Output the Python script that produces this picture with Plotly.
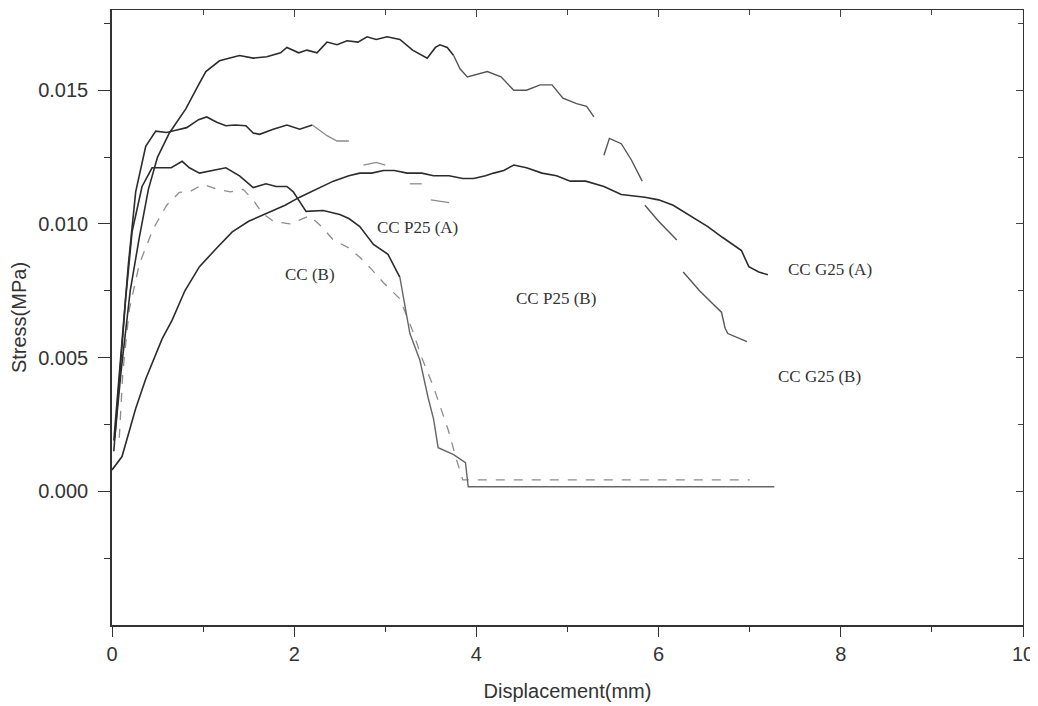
import plotly.graph_objects as go

# ---------------- data ----------------
# CC G25 (B): highest curve
g25b_x = [0.03, 0.1, 0.2, 0.3, 0.4, 0.5, 0.63, 0.81, 0.95, 1.03, 1.18, 1.4, 1.55, 1.7, 1.85, 1.92,
          2.05, 2.14, 2.25, 2.36, 2.47, 2.58, 2.7, 2.8, 2.9, 3.02, 3.16, 3.3, 3.46, 3.55, 3.6, 3.68, 3.75]
g25b_y = [0.002, 0.0045, 0.0075, 0.0095, 0.0113, 0.0125, 0.0134, 0.0143, 0.0152, 0.0157, 0.0161, 0.0163,
          0.0162, 0.01625, 0.0164, 0.0166, 0.0164, 0.0165, 0.0164, 0.0168, 0.0167, 0.01685, 0.0168, 0.0170,
          0.0169, 0.0170, 0.0169, 0.0165, 0.0162, 0.0166, 0.0167, 0.0166, 0.0163]
g25b_tail_x = [3.75, 3.82, 3.9, 4.0, 4.12, 4.27, 4.41, 4.55, 4.7, 4.83, 4.95, 5.1, 5.21, 5.29, None,
               5.4, 5.46, 5.59, 5.7, 5.82, None, 5.85, 6.0, 6.2, None, 6.27, 6.45, 6.6, 6.69, 6.73, 6.76, 6.97]
g25b_tail_y = [0.0163, 0.0158, 0.0155, 0.0156, 0.0157, 0.0155, 0.0150, 0.0150, 0.0152, 0.0152, 0.0147,
               0.0145, 0.0144, 0.0140, None, 0.01257, 0.0132, 0.0130, 0.0124, 0.0116, None, 0.0107, 0.0101,
               0.0094, None, 0.0082, 0.0075, 0.0070, 0.0067, 0.0061, 0.0059, 0.0056]

# CC G25 (A): slowly rising curve
g25a_x = [0, 0.11, 0.26, 0.37, 0.55, 0.66, 0.8, 0.96, 1.15, 1.32, 1.5, 1.7, 1.9, 2.06, 2.25, 2.43, 2.6, 2.72,
          2.85, 2.98, 3.1, 3.24, 3.4, 3.53, 3.7, 3.85, 3.97, 4.1, 4.19, 4.3, 4.41, 4.55, 4.72, 4.88, 5.03,
          5.2, 5.4, 5.59, 5.85, 6.0, 6.16, 6.35, 6.54, 6.7, 6.91, 6.99, 7.1, 7.2]
g25a_y = [0.0008, 0.0013, 0.0031, 0.0042, 0.0057, 0.0064, 0.0075, 0.0084, 0.0091, 0.0097, 0.0101, 0.0104,
          0.0107, 0.0110, 0.0113, 0.0116, 0.0118, 0.0119, 0.0119, 0.0120, 0.0120, 0.0119, 0.0119, 0.0118,
          0.0118, 0.0117, 0.0117, 0.0118, 0.0119, 0.0120, 0.0122, 0.0121, 0.0119, 0.0118, 0.0116, 0.0116,
          0.0114, 0.0111, 0.0110, 0.0109, 0.0107, 0.0103, 0.0099, 0.0095, 0.0090, 0.0084, 0.0082, 0.0081]

# CC (A): plateau near 0.014
cca_x = [0.02, 0.06, 0.1, 0.18, 0.26, 0.37, 0.48, 0.6, 0.7, 0.82, 0.95, 1.04, 1.15, 1.25, 1.35, 1.47,
         1.55, 1.62, 1.77, 1.92, 2.06, 2.2]
cca_y = [0.0019, 0.0035, 0.0053, 0.0085, 0.0112, 0.0129, 0.01347, 0.01342, 0.0135, 0.0136, 0.0139,
         0.0140, 0.0138, 0.01367, 0.0137, 0.01367, 0.0134, 0.01335, 0.01354, 0.0137, 0.01354, 0.0137]
cca_tail_x = [2.2, 2.36, 2.47, 2.6, None, 2.76, 2.9, 3.0, None, 3.27, 3.4, None, 3.5, 3.7]
cca_tail_y = [0.0137, 0.0133, 0.0131, 0.0131, None, 0.0122, 0.0123, 0.0122, None, 0.0115, 0.0115, None,
              0.0109, 0.0108]

# CC P25 (A): plateau near 0.012
p25a_x = [0.02, 0.08, 0.15, 0.22, 0.33, 0.44, 0.55, 0.65, 0.77, 0.85, 0.96, 1.1, 1.25, 1.4, 1.55, 1.69,
          1.8, 1.92, 1.99, 2.13, 2.32, 2.5, 2.6, 2.72, 2.87, 3.03, 3.16]
p25a_y = [0.0015, 0.004, 0.0072, 0.0097, 0.0114, 0.0121, 0.0121, 0.0121, 0.01234, 0.0121, 0.0119, 0.0120,
          0.0121, 0.0118, 0.01136, 0.0115, 0.0114, 0.0114, 0.0112, 0.01047, 0.0105, 0.01035, 0.0102,
          0.0099, 0.00923, 0.00886, 0.0080]
p25a_tail_x = [3.16, 3.27, 3.38, 3.47, 3.53, 3.58, 3.75, 3.88, 3.91, 5.0, 7.27]
p25a_tail_y = [0.0080, 0.0059, 0.0049, 0.0035, 0.0027, 0.00163, 0.00137, 0.00107, 0.00017, 0.00017, 0.00017]

# CC (B): dashed grey curve
ccb_x = [0.08, 0.12, 0.19, 0.3, 0.45, 0.6, 0.74, 0.85, 1.0, 1.15, 1.3, 1.44, 1.55, 1.65, 1.77, 1.95, 2.17,
         2.3, 2.43, 2.6, 2.72, 2.85, 2.98, 3.16, 3.3, 3.4, 3.53, 3.69, 3.78, 3.85, 5.0, 7.0]
ccb_y = [0.002, 0.0045, 0.0068, 0.0085, 0.0098, 0.0107, 0.01118, 0.0112, 0.01148, 0.0113, 0.0112, 0.01129,
         0.0109, 0.0104, 0.0101, 0.0100, 0.0103, 0.0099, 0.0094, 0.0091, 0.00875, 0.0083, 0.0078, 0.0072,
         0.0060, 0.0050, 0.0039, 0.0023, 0.0012, 0.00043, 0.00043, 0.00043]

label_text = ["CC P25 (A)", "CC (B)", "CC P25 (B)", "CC G25 (A)", "CC G25 (B)"]
label_x = [3.35, 2.17, 4.87, 7.88, 7.77]
label_y = [0.00987, 0.0081, 0.0072, 0.0083, 0.0043]

x_ticks = [0, 2, 4, 6, 8, 10]
y_ticks = [0.000, 0.005, 0.010, 0.015]
y_tick_text = ["0.000", "0.005", "0.010", "0.015"]
y_minor = [-0.0025, 0.0025, 0.0075, 0.0125, 0.0175]
x_range = [0, 10]
y_range = [-0.005, 0.018]

# ---------------- figure ----------------
DARK = "#2c2c2c"
FAINT = "#8c8c8c"

fig = go.Figure()

def add(x, y, color, width, dash="solid", axes=("x", "y")):
    fig.add_trace(go.Scatter(x=x, y=y, mode="lines", connectgaps=False,
                             line=dict(color=color, width=width, dash=dash),
                             xaxis=axes[0], yaxis=axes[1], hoverinfo="skip", showlegend=False))

add(g25a_x, g25a_y, DARK, 1.6, axes=("x2", "y2"))
add(ccb_x, ccb_y, FAINT, 1.3, dash="dash")
add(p25a_x, p25a_y, DARK, 1.6)
add(p25a_tail_x, p25a_tail_y, "#666666", 1.4)
add(cca_x, cca_y, DARK, 1.6)
add(cca_tail_x, cca_tail_y, FAINT, 1.3)
add(g25b_x, g25b_y, DARK, 1.6)
add(g25b_tail_x, g25b_tail_y, "#555555", 1.4)

for t, lx, ly in zip(label_text, label_x, label_y):
    fig.add_annotation(x=lx, y=ly, text=t, showarrow=False, xref="x", yref="y",
                       font=dict(family="Liberation Serif", size=17, color="#333333"))

axis_font = dict(family="Liberation Sans", size=20, color="#333333")
title_font = dict(family="Liberation Sans", size=20, color="#333333")

# the page body adds an 8px offset, so the figure is 1030x698
fig.update_layout(
    width=1030, height=698,
    margin=dict(l=104, r=15, t=2, b=81, autoexpand=False),
    paper_bgcolor="white", plot_bgcolor="white",
    xaxis=dict(range=x_range, tickvals=x_ticks, ticks="outside", ticklen=10, tickwidth=1.3,
               tickcolor="#333", linecolor="#333", linewidth=1.6, showline=True, showgrid=False,
               zeroline=False, tickfont=axis_font, automargin=False,
               minor=dict(dtick=1, ticks="outside", ticklen=5, tickcolor="#333", tickwidth=1.2),
               title=dict(text="Displacement(mm)", font=title_font, standoff=20)),
    yaxis=dict(range=y_range, tickvals=y_ticks, ticktext=y_tick_text, ticks="outside", ticklen=12,
               tickwidth=1.3, tickcolor="#333", linecolor="#333", linewidth=1.6, showline=True,
               showgrid=False, zeroline=False, tickfont=axis_font, automargin=False,
               ticklabelstandoff=6,
               minor=dict(tickvals=y_minor, ticks="outside", ticklen=6, tickcolor="#333", tickwidth=1.2),
               title=dict(text="Stress(MPa)", font=title_font, standoff=8)),
    xaxis2=dict(range=x_range, overlaying="x", side="top", tickvals=x_ticks, ticks="inside", ticklen=7,
                tickcolor="#444", showticklabels=False, showline=True, linecolor="#333", linewidth=1.4,
                showgrid=False, zeroline=False, automargin=False,
                minor=dict(dtick=1, ticks="inside", ticklen=5, tickcolor="#444")),
    yaxis2=dict(range=y_range, overlaying="y", side="right", tickvals=y_ticks, ticks="inside", ticklen=7,
                tickcolor="#444", showticklabels=False, showline=True, linecolor="#333", linewidth=1.4,
                showgrid=False, zeroline=False, automargin=False,
                minor=dict(tickvals=y_minor, ticks="inside", ticklen=5, tickcolor="#444")),
)

fig.write_html("out.html")
